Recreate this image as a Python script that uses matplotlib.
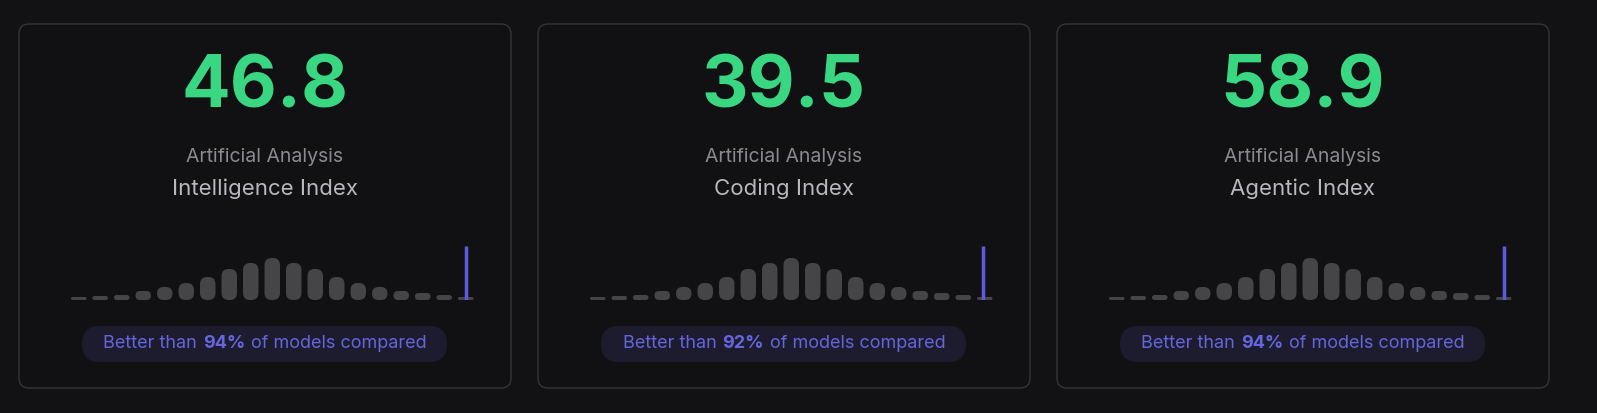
import matplotlib
matplotlib.use("Agg")
import matplotlib.pyplot as plt
from matplotlib.patches import FancyBboxPatch

scores = ["46.8", "39.5", "58.9"]
subtitles = ["Intelligence Index", "Coding Index", "Agentic Index"]
percentiles = ["94%", "92%", "94%"]
bar_heights = [3, 4, 5, 9, 13, 17, 23, 31, 37, 42, 37, 31, 23, 17, 13, 9, 7, 5, 3]
marker_pos = [18, 17.9, 18]

W, H = 1597, 413
plt.rcParams['font.family'] = ['Inter', 'DejaVu Sans']
fig = plt.figure(figsize=(W / 100, H / 100), dpi=100, facecolor="#121214")

def fx(x): return x / W
def fy(y): return 1 - y / H

bg = fig.add_axes([0, 0, 1, 1])
bg.set_xlim(0, W); bg.set_ylim(H, 0); bg.axis("off")
renderer = fig.canvas.get_renderer()

panel_left = [19, 538, 1057]
pw = 492
for k in range(3):
    L = panel_left[k]
    bg.add_patch(FancyBboxPatch((L, 24), pw, 364, boxstyle="round,pad=0,rounding_size=10",
                                fc="#111113", ec="#34343a", lw=1.0))
    cx = L + pw / 2
    fig.text(fx(cx), fy(88), scores[k], color="#3ad783", fontsize=52, fontweight="bold",
             ha="center", va="center")
    fig.text(fx(cx), fy(157), "Artificial Analysis", color="#8a8a8f", fontsize=14,
             ha="center", va="center")
    fig.text(fx(cx), fy(189), subtitles[k], color="#b8b8bd", fontsize=16,
             ha="center", va="center")
    bg.add_patch(FancyBboxPatch((L + 63, 326), 365, 36, boxstyle="round,pad=0,rounding_size=18",
                                fc="#1c1c2e", ec="none"))
    parts = [("Better than ", "normal"), (percentiles[k], "bold"), (" of models compared", "normal")]
    objs = []
    for s, wgt in parts:
        t = fig.text(0, fy(344), s, color="#6565dc", fontsize=13, fontweight=wgt,
                     ha="left", va="center")
        objs.append(t)
    widths = [o.get_window_extent(renderer).width for o in objs]
    space = 4
    total = sum(widths) + space * 2
    xpos = cx - total / 2
    for i, o in enumerate(objs):
        o.set_x(fx(xpos))
        xpos += widths[i] + (space if i < 2 else 0)
    objs[0].set_text("Better than")
    objs[2].set_text("of models compared")
    # re-layout without spaces in strings
    widths = [o.get_window_extent(renderer).width for o in objs]
    space = 6
    total = sum(widths) + space * 2
    xpos = cx - total / 2
    for i, o in enumerate(objs):
        o.set_x(fx(xpos))
        xpos += widths[i] + space

    x0 = L + 60 - 11
    n = len(bar_heights)
    axw = 21.5 * n
    ax = fig.add_axes([fx(x0), fy(300), axw / W, 60 / H])
    ax.set_xlim(-0.5, n - 0.5); ax.set_ylim(0, 60); ax.axis("off")
    bars = ax.bar(range(n), bar_heights, width=0.72, color="none")
    for b in bars:
        x, y = b.get_xy(); w, h = b.get_width(), b.get_height()
        r = min(0.33, h / 21.5 / 2)
        ax.add_patch(FancyBboxPatch((x, y), w, h, boxstyle=f"round,pad=0,rounding_size={r}",
                                    mutation_aspect=21.5, fc="#454548", ec="none"))
    ax.vlines([marker_pos[k]], 0, 54, color="#5c5ce0", lw=2.5)

fig.savefig("out.png", dpi=100, facecolor=fig.get_facecolor())
